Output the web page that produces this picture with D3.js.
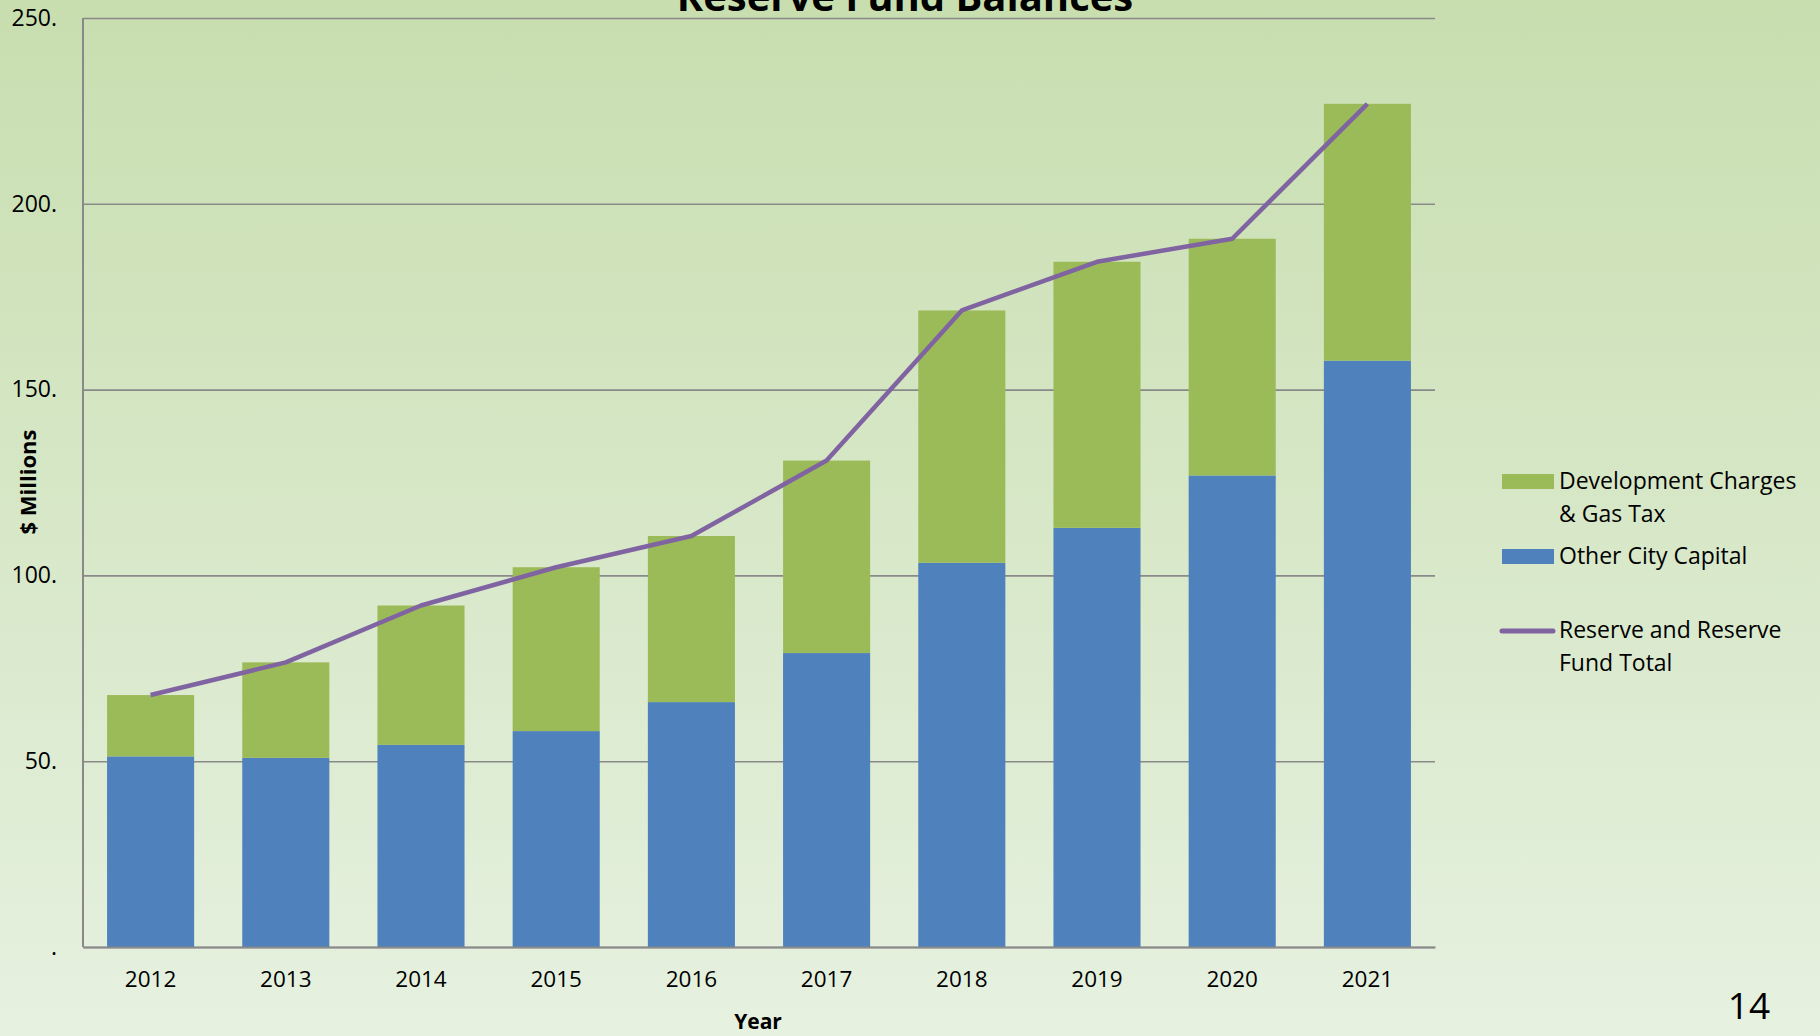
<!DOCTYPE html>
<html>
<head>
<meta charset="utf-8">
<script src="https://cdn.jsdelivr.net/npm/d3@7"></script>
<style>
    body { margin: 0; overflow: hidden; }
    text { font-family: "Open Sans", sans-serif; fill: #000; }
</style>
</head>
<body>
<div id="container"></div>
<script>

// data
const years = ['2012', '2013', '2014', '2015', '2016', '2017', '2018', '2019', '2020', '2021']
const otherCapital = [51.3, 50.9, 54.4, 58.1, 65.9, 79.1, 103.4, 112.8, 126.9, 157.8]
const devCharges = [16.5, 25.7, 37.5, 44.1, 44.7, 51.8, 67.9, 71.6, 63.7, 69.1]
const reserveTotal = [67.8, 76.6, 91.9, 102.2, 110.6, 130.9, 171.3, 184.4, 190.6, 226.9]
const yTicks = [0, 50, 100, 150, 200, 250]
const yTickLabels = ['.', '50.', '100.', '150.', '200.', '250.']

const width = 1820
const height = 1036
const margin = { top: 18, right: 385, bottom: 89, left: 83 }

const svg = d3.select('#container').append('svg')
    .attr('width', width).attr('height', height)

// background gradient
const grad = svg.append('defs').append('linearGradient')
    .attr('id', 'bg').attr('x1', 0).attr('y1', 0).attr('x2', 0).attr('y2', 1)
grad.append('stop').attr('offset', '0%').attr('stop-color', '#c8deaf')
grad.append('stop').attr('offset', '100%').attr('stop-color', '#e6f1e0')

svg.append('rect').attr('width', width).attr('height', height).attr('fill', 'url(#bg)')

const xScale = d3.scaleBand()
    .domain(years)
    .range([margin.left, width - margin.right])
    .paddingInner(0.356)
    .paddingOuter(0.178)

const yScale = d3.scaleLinear()
    .domain([0, 250])
    .range([height - margin.bottom, margin.top])

// gridlines
const yAxis = d3.axisLeft(yScale)
    .tickValues(yTicks)
    .tickSize(-(width - margin.right - margin.left))
    .tickFormat((d, i) => yTickLabels[i])

const gy = svg.append('g').attr('id', 'y-axis')
    .attr('transform', `translate(${margin.left}, 0)`)
    .call(yAxis)
gy.select('.domain').remove()
gy.selectAll('line').attr('stroke', '#898989').attr('stroke-width', 1.6)
gy.selectAll('text')
    .attr('x', -26)
    .style('font-size', '23px')
    .style('font-family', '"Open Sans", sans-serif')

// stacked bars
const stackData = years.map((y, i) => ({ year: y, other: otherCapital[i], dev: devCharges[i] }))
const series = d3.stack().keys(['other', 'dev'])(stackData)
const colors = { other: '#4f81bd', dev: '#9bbb59' }

svg.append('g').selectAll('g')
    .data(series)
    .enter()
    .append('g')
    .attr('fill', d => colors[d.key])
    .selectAll('rect')
    .data(d => d)
    .enter()
    .append('rect')
    .attr('x', d => xScale(d.data.year))
    .attr('y', d => yScale(d[1]))
    .attr('width', xScale.bandwidth())
    .attr('height', d => yScale(d[0]) - yScale(d[1]))

// axes lines
svg.append('line')
    .attr('x1', margin.left).attr('x2', margin.left)
    .attr('y1', margin.top).attr('y2', height - margin.bottom)
    .attr('stroke', '#898989').attr('stroke-width', 2)

const xAxis = d3.axisBottom(xScale).tickSize(0).tickPadding(24)
const gx = svg.append('g').attr('id', 'x-axis')
    .attr('transform', `translate(0, ${height - margin.bottom})`)
    .call(xAxis)
gx.select('.domain').attr('stroke', '#898989').attr('stroke-width', 2)
gx.selectAll('text')
    .style('font-size', '22.5px')
    .style('font-family', '"Open Sans", sans-serif')

// total line
const line = d3.line()
    .x((d, i) => xScale(years[i]) + xScale.bandwidth() / 2)
    .y(d => yScale(d))

svg.append('path')
    .datum(reserveTotal)
    .attr('d', line)
    .attr('fill', 'none')
    .attr('stroke', '#8064a2')
    .attr('stroke-width', 4.5)
    .attr('stroke-linejoin', 'round')

// titles
svg.append('text')
    .attr('x', 905).attr('y', 11)
    .attr('text-anchor', 'middle')
    .style('font-size', '40px').style('font-weight', 'bold')
    .text('Reserve Fund Balances')

svg.append('text')
    .attr('x', 758).attr('y', 1029)
    .attr('text-anchor', 'middle')
    .style('font-size', '21px').style('font-weight', 'bold')
    .text('Year')

svg.append('text')
    .attr('transform', 'translate(36, 482) rotate(-90)')
    .attr('text-anchor', 'middle')
    .style('font-size', '22px').style('font-weight', 'bold')
    .text('$ Millions')

svg.append('text')
    .attr('x', 1749).attr('y', 1019)
    .attr('text-anchor', 'middle')
    .style('font-size', '37px')
    .text('14')

// legend
const legend = svg.append('g').attr('id', 'legend')
const legendFont = '23px'

legend.append('rect')
    .attr('x', 1502).attr('y', 474).attr('width', 52).attr('height', 15)
    .attr('fill', colors.dev)
legend.append('text').attr('x', 1559).attr('y', 489).style('font-size', legendFont).text('Development Charges')
legend.append('text').attr('x', 1559).attr('y', 522).style('font-size', legendFont).text('& Gas Tax')

legend.append('rect')
    .attr('x', 1502).attr('y', 549).attr('width', 52).attr('height', 15)
    .attr('fill', colors.other)
legend.append('text').attr('x', 1559).attr('y', 564).style('font-size', legendFont).text('Other City Capital')

legend.append('line')
    .attr('x1', 1502).attr('x2', 1553).attr('y1', 631).attr('y2', 631)
    .attr('stroke', '#8064a2').attr('stroke-width', 5).attr('stroke-linecap', 'round')
legend.append('text').attr('x', 1559).attr('y', 638).style('font-size', legendFont).text('Reserve and Reserve')
legend.append('text').attr('x', 1559).attr('y', 671).style('font-size', legendFont).text('Fund Total')

</script>
</body>
</html>
